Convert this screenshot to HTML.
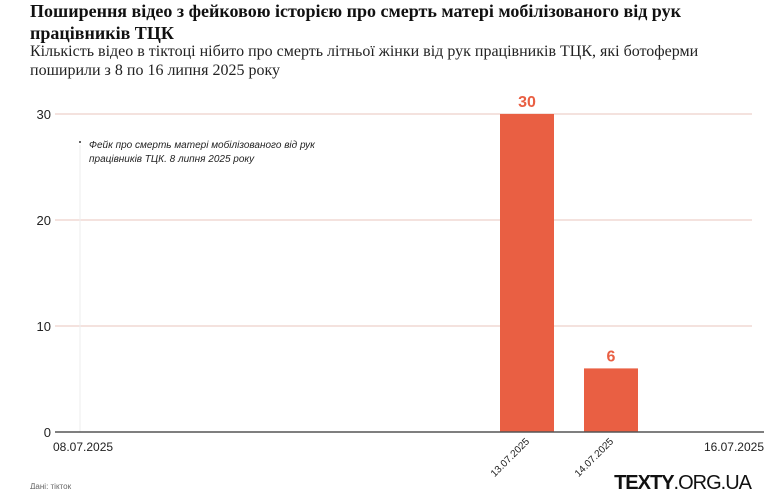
<!DOCTYPE html>
<html><head><meta charset="utf-8"><style>
body{margin:0;width:770px;height:489px;background:#fff;font-family:"Liberation Sans",sans-serif;overflow:hidden;position:relative}
h1{position:absolute;left:30px;top:0;margin:0;font:bold 18px/22px "Liberation Serif",serif;color:#111;width:720px}
.sub{position:absolute;left:30px;top:42px;font:16px/19px "Liberation Serif",serif;color:#222;width:720px}
</style></head><body>
<h1>Поширення відео з фейковою історією про смерть матері мобілізованого від рук працівників ТЦК</h1>
<div class="sub">Кількість відео в тіктоці нібито про смерть літньої жінки від рук працівників ТЦК, які ботоферми поширили з 8 по 16 липня 2025 року</div>
<svg id="c" width="770" height="489" style="position:absolute;left:0;top:0"></svg>
<script>
const dates=["13.07.2025","14.07.2025"];
const dayIndex=[5,6];
const values=[30,6];
const yTicks=[0,10,20,30];
const xEdgeLabels=["08.07.2025","16.07.2025"];
const NS="http://www.w3.org/2000/svg",svg=document.getElementById('c');
const x=d=>80+d*84, y=v=>432-v*10.6;
function mk(t,a,txt){const e=document.createElementNS(NS,t);for(const k in a)e.setAttribute(k,a[k]);if(txt!==undefined)e.textContent=txt;svg.appendChild(e);return e;}
yTicks.forEach(t=>{
 if(t>0){const l=mk('line',{x1:55,x2:752,y1:y(t),y2:y(t),stroke:'#e8c4bc','stroke-width':1});
 
 }
 const tx=mk('text',{x:51,y:y(t)+5,'text-anchor':'end','font-size':13,fill:'#222'},t);
 
 
});
const an=mk('line',{x1:80,x2:80,y1:145,y2:432,stroke:'#eee'});


mk('circle',{cx:80,cy:142,r:1,fill:'#333'});
const a1=mk('text',{x:89,y:148,'font-size':10,'font-style':'italic',fill:'#222'},'Фейк про смерть матері мобілізованого від рук');


mk('text',{x:89,y:162,'font-size':10,'font-style':'italic',fill:'#222'},'працівників ТЦК. 8 липня 2025 року');
dates.forEach((d,i)=>{
 const r=mk('rect',{x:x(dayIndex[i]),y:y(values[i]),width:54,height:y(0)-y(values[i]),fill:'#e95f43'});
 
 
 const v=mk('text',{x:x(dayIndex[i])+27,y:y(values[i])-7,'text-anchor':'middle','font-size':16,'font-weight':'bold',fill:'#e95f43'},values[i]);
 
 
 const cx=x(dayIndex[i])+30,cy=442;
 const t=mk('text',{x:cx,y:cy,'text-anchor':'end','font-size':10,fill:'#222',transform:`rotate(-45 ${cx} ${cy})`},d);
 
 
});
const ax=mk('line',{x1:55,x2:764,y1:432,y2:432,stroke:'#555','stroke-width':1.5});


const l1=mk('text',{x:53,y:451,'font-size':12,fill:'#222'},xEdgeLabels[0]);


const l2=mk('text',{x:764,y:451,'text-anchor':'end','font-size':12,fill:'#222'},xEdgeLabels[1]);


const s=mk('text',{x:30,y:489,'font-size':8,fill:'#666'},'Дані: тікток');


const lg=mk('text',{x:751,y:489,'text-anchor':'end','font-size':20,fill:'#111','letter-spacing':'-1'},'');
lg.innerHTML='<tspan font-weight="bold">TEXTY</tspan>.ORG.UA';


</script>
</body></html>
